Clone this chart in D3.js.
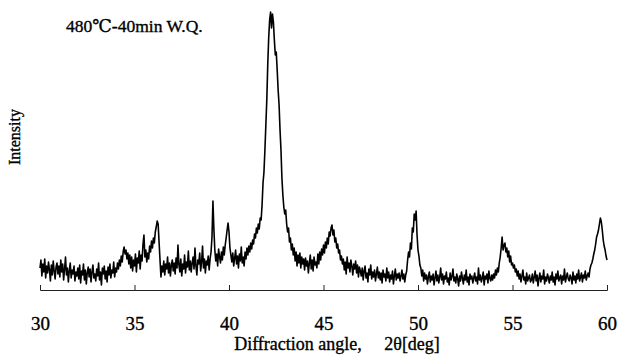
<!DOCTYPE html>
<html>
<head>
<meta charset="utf-8">
<script src="https://cdn.jsdelivr.net/npm/d3@7"></script>
<style>
  body { margin: 0; background: #fff; }
  svg { display: block; }
  svg text { font-family: "Liberation Serif", "Tinos", "Times New Roman", "DejaVu Serif", serif !important; fill: #000; stroke: #000; stroke-width: 0.35px; }
</style>
</head>
<body>
<svg id="chart" width="618" height="356"></svg>
<script>
// 2θ from 30 to 60 deg, step 0.05
const angleStart = 30;
const angleStep = 0.05;
const tickAngles = [30, 35, 40, 45, 50, 55, 60];

// intensity (a.u.), 20 points per degree
const intensity = [
  // 30
  22, 30, 14, 26, 18, 31, 12, 24, 17, 28, 20, 9, 25, 15, 29, 19, 11, 23, 27, 16,
  // 31
  24, 13, 30, 18, 26, 10, 21, 33, 15, 22, 8, 19, 27, 12, 20, 16, 24, 9, 18, 14,
  // 32
  22, 11, 25, 7, 19, 15, 26, 10, 20, 6, 17, 23, 13, 21, 8, 18, 25, 12, 16, 9,
  // 33
  21, 14, 27, 10, 18, 5, 22, 16, 24, 11, 19, 8, 23, 15, 26, 12, 20, 17, 28, 13,
  // 34
  22, 18, 27, 21, 30, 24, 34, 28, 38, 43, 36, 40, 31, 37, 26, 35, 22, 33, 19, 30,
  // 35
  24, 36, 18, 32, 27, 39, 21, 35, 29, 46, 55, 33, 40, 28, 37, 31, 44, 38, 49, 42,
  // 36
  52, 47, 58, 63, 69, 66, 48, 30, 13, 24, 18, 29, 15, 26, 21, 33, 17, 27, 14, 25,
  // 37
  30, 19, 27, 16, 32, 22, 45, 25, 18, 31, 14, 26, 21, 35, 17, 28, 23, 39, 20, 29,
  // 38
  18, 27, 33, 21, 42, 24, 15, 30, 26, 37, 19, 28, 44, 22, 31, 17, 29, 25, 34, 20,
  // 39
  31, 38, 53, 89, 61, 40, 29, 36, 24, 41, 33, 27, 38, 30, 43, 35, 45, 52, 60, 67,
  // 40
  58, 42, 35, 28, 37, 24, 32, 40, 26, 34, 22, 36, 29, 43, 27, 33, 24, 38, 31, 42,
  // 41
  35, 44, 38, 47, 41, 50, 46, 56, 52, 62, 57, 66, 61, 72, 70, 85, 107, 118, 140, 165,
  // 42
  190, 225, 252, 270, 278, 262, 276, 268, 250, 235, 238, 220, 200, 185, 160, 140, 112, 95, 83, 76,
  // 43
  80, 66, 58, 62, 48, 52, 40, 46, 35, 42, 29, 38, 24, 35, 27, 37, 22, 33, 26, 31,
  // 44
  20, 32, 24, 29, 17, 27, 35, 21, 30, 19, 33, 25, 28, 22, 36, 26, 38, 30, 41, 35,
  // 45
  45, 37, 48, 42, 52, 46, 58, 54, 62, 65, 55, 60, 48, 52, 42, 46, 37, 40, 30, 34,
  // 46
  26, 31, 20, 28, 16, 33, 22, 27, 18, 30, 24, 15, 26, 21, 29, 17, 25, 13, 23, 19,
  // 47
  14, 22, 10, 19, 24, 12, 17, 8, 21, 15, 25, 11, 18, 13, 20, 9, 16, 23, 12, 18,
  // 48
  10, 17, 7, 20, 13, 16, 9, 22, 12, 18, 8, 15, 11, 19, 6, 14, 21, 10, 16, 12,
  // 49
  17, 9, 14, 20, 11, 16, 8, 15, 19, 30, 38, 33, 47, 41, 62, 58, 76, 70, 79, 55,
  // 50
  40, 34, 25, 22, 14, 20, 9, 17, 11, 15, 6, 13, 18, 8, 14, 10, 16, 5, 12, 19,
  // 51
  9, 15, 7, 13, 22, 10, 16, 6, 14, 11, 18, 8, 12, 5, 17, 10, 14, 21, 9, 13,
  // 52
  7, 16, 11, 4, 14, 9, 18, 12, 6, 15, 10, 20, 8, 13, 5, 16, 11, 14, 7, 12,
  // 53
  17, 9, 13, 6, 22, 10, 15, 8, 12, 18, 5, 14, 11, 16, 7, 19, 12, 9, 15, 10,
  // 54
  16, 12, 20, 15, 22, 18, 27, 33, 42, 53, 40, 45, 47, 38, 42, 33, 39, 28, 34, 25,
  // 55
  27, 22, 25, 18, 21, 14, 19, 11, 16, 8, 14, 20, 10, 13, 6, 17, 9, 12, 15, 8,
  // 56
  10, 16, 7, 13, 19, 9, 15, 4, 12, 17, 8, 14, 11, 20, 6, 13, 9, 16, 12, 7,
  // 57
  14, 10, 18, 8, 13, 5, 16, 11, 19, 9, 12, 15, 6, 14, 10, 21, 8, 13, 17, 11,
  // 58
  9, 15, 12, 6, 18, 10, 14, 7, 16, 11, 20, 9, 13, 17, 8, 15, 12, 19, 10, 14,
  // 59
  17, 13, 21, 25, 27, 31, 36, 40, 46, 53, 56, 60, 66, 72, 68, 60, 50, 44, 40, 34,
  // 60
  30
];

const title = '480\u2103-40min W.Q.';
const xLabel = 'Diffraction angle,\u00a0\u00a0\u00a0\u00a0 2\u03b8[deg]';
const yLabel = 'Intensity';

const width = 618;
const height = 356;
const margin = { left: 40, right: 11, top: 10, bottom: 66 };

const data = intensity.map((v, i) => ({ angle: angleStart + i * angleStep, value: v }));

const svg = d3.select('#chart');

const x = d3.scaleLinear([30, 60], [margin.left, width - margin.right]);
const y = d3.scaleLinear([0, 280], [height - margin.bottom, margin.top]);

// trace
const line = d3.line()
  .x((d) => x(d.angle))
  .y((d) => y(d.value));

svg.append('path')
  .datum(data)
  .attr('d', line)
  .attr('fill', 'none')
  .attr('stroke', '#000')
  .attr('stroke-width', 1.6)
  .attr('stroke-linejoin', 'round');

// x axis, ticks pointing up into the plot
const xAxis = d3.axisBottom(x)
  .tickValues(tickAngles)
  .tickFormat(d3.format('d'))
  .tickSizeInner(-5)
  .tickSizeOuter(-5)
  .tickPadding(27);

const xAxisEl = svg.append('g')
  .attr('transform', `translate(0,${y(0)})`)
  .attr('font-family', null)
  .call(xAxis);

xAxisEl.select('.domain').attr('stroke', '#222').attr('stroke-width', 1);
xAxisEl.selectAll('.tick line').attr('stroke', '#222');
xAxisEl.selectAll('.tick text')
  .attr('font-size', 19)
  .attr('fill', '#000');

svg.append('text')
  .attr('x', 337)
  .attr('y', 350)
  .attr('text-anchor', 'middle')
  .attr('font-size', 18)
  .text(xLabel);

svg.append('text')
  .attr('transform', 'translate(20,137) rotate(-90)')
  .attr('text-anchor', 'middle')
  .attr('font-size', 16)
  .text(yLabel);

svg.append('text')
  .attr('x', 66)
  .attr('y', 32)
  .attr('font-size', 17.5)
  .text(title);
</script>
</body>
</html>
